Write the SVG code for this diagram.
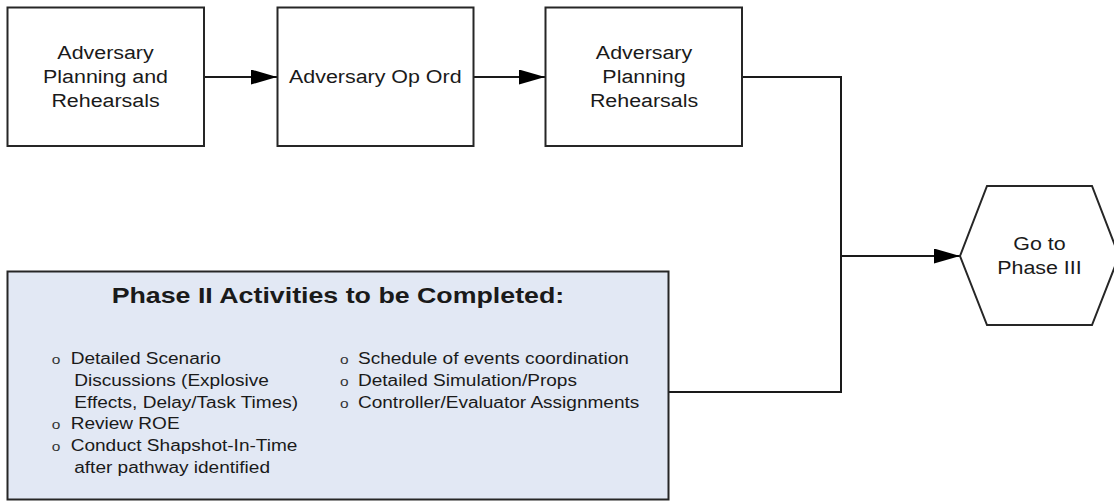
<svg xmlns="http://www.w3.org/2000/svg" width="1114" height="502" viewBox="0 0 1114 502">
<style>
.box{fill:#ffffff;stroke:#262626;stroke-width:2}
.phase{fill:#e2e8f4;stroke:#262626;stroke-width:2}
.conn{fill:none;stroke:#1a1a1a;stroke-width:2}
.lbl{font-family:"Liberation Sans",Arial,sans-serif;font-size:18px;fill:#1a1a1a;text-anchor:middle}
.hdr{font-family:"Liberation Sans",Arial,sans-serif;font-size:22.5px;font-weight:bold;fill:#1a1a1a;text-anchor:middle}
.bul{font-family:"Liberation Sans",Arial,sans-serif;font-size:16px;fill:#1a1a1a}
.dot{font-family:"Liberation Sans",Arial,sans-serif;font-size:13px;fill:#333333}
</style>
<defs>
<marker id="arr" markerUnits="userSpaceOnUse" markerWidth="26" markerHeight="15" refX="26" refY="7.5" orient="auto">
<path d="M0,0 L26,7.5 L0,15 Z" fill="#000000"/>
</marker>
</defs>
<g id="connectors">
<line class="conn" x1="204" y1="77" x2="277" y2="77" marker-end="url(#arr)"/>
<line class="conn" x1="473" y1="77" x2="545" y2="77" marker-end="url(#arr)"/>
<polyline class="conn" points="742,77 841,77 841,392 669,392"/>
<line class="conn" x1="841" y1="256" x2="960" y2="256" marker-end="url(#arr)"/>
</g>
<g id="node-planning">
<rect class="box" x="7.5" y="7.5" width="196.5" height="138.5"/>
<g transform="scale(1.19 1)">
<text class="lbl" x="88.7" y="59">Adversary</text>
<text class="lbl" x="88.7" y="83">Planning and</text>
<text class="lbl" x="88.7" y="107">Rehearsals</text>
</g>
</g>
<g id="node-oporder">
<rect class="box" x="277.5" y="7.5" width="196" height="138.5"/>
<g transform="scale(1.19 1)">
<text class="lbl" x="315.4" y="83">Adversary Op Ord</text>
</g>
</g>
<g id="node-rehearsals">
<rect class="box" x="545.5" y="7.5" width="196.5" height="138.5"/>
<g transform="scale(1.19 1)">
<text class="lbl" x="541.2" y="59">Adversary</text>
<text class="lbl" x="541.2" y="83">Planning</text>
<text class="lbl" x="541.2" y="107">Rehearsals</text>
</g>
</g>
<g id="node-phase3">
<polygon class="box" points="960,256 987,186 1092,186 1119,256 1092,325 987,325"/>
<g transform="scale(1.19 1)">
<text class="lbl" x="873.5" y="250">Go to</text>
<text class="lbl" x="873.5" y="274">Phase III</text>
</g>
</g>
<g id="node-activities">
<rect class="phase" x="7.5" y="271.5" width="661" height="228"/>
<g transform="scale(1.19 1)">
<text class="hdr" x="284" y="303">Phase II Activities to be Completed:</text>
<text class="dot" x="43.4" y="364.3">o</text>
<text class="bul" x="59.4" y="364.3">Detailed Scenario</text>
<text class="bul" x="62.4" y="386">Discussions (Explosive</text>
<text class="bul" x="62.4" y="407.7">Effects, Delay/Task Times)</text>
<text class="dot" x="43.4" y="429.4">o</text>
<text class="bul" x="59.4" y="429.4">Review ROE</text>
<text class="dot" x="43.4" y="451.1">o</text>
<text class="bul" x="59.4" y="451.1">Conduct Shapshot-In-Time</text>
<text class="bul" x="62.4" y="472.8">after pathway identified</text>
<text class="dot" x="285.7" y="364.3">o</text>
<text class="bul" x="300.8" y="364.3">Schedule of events coordination</text>
<text class="dot" x="285.7" y="386">o</text>
<text class="bul" x="300.8" y="386">Detailed Simulation/Props</text>
<text class="dot" x="285.7" y="407.7">o</text>
<text class="bul" x="300.8" y="407.7">Controller/Evaluator Assignments</text>
</g>
</g>
</svg>
